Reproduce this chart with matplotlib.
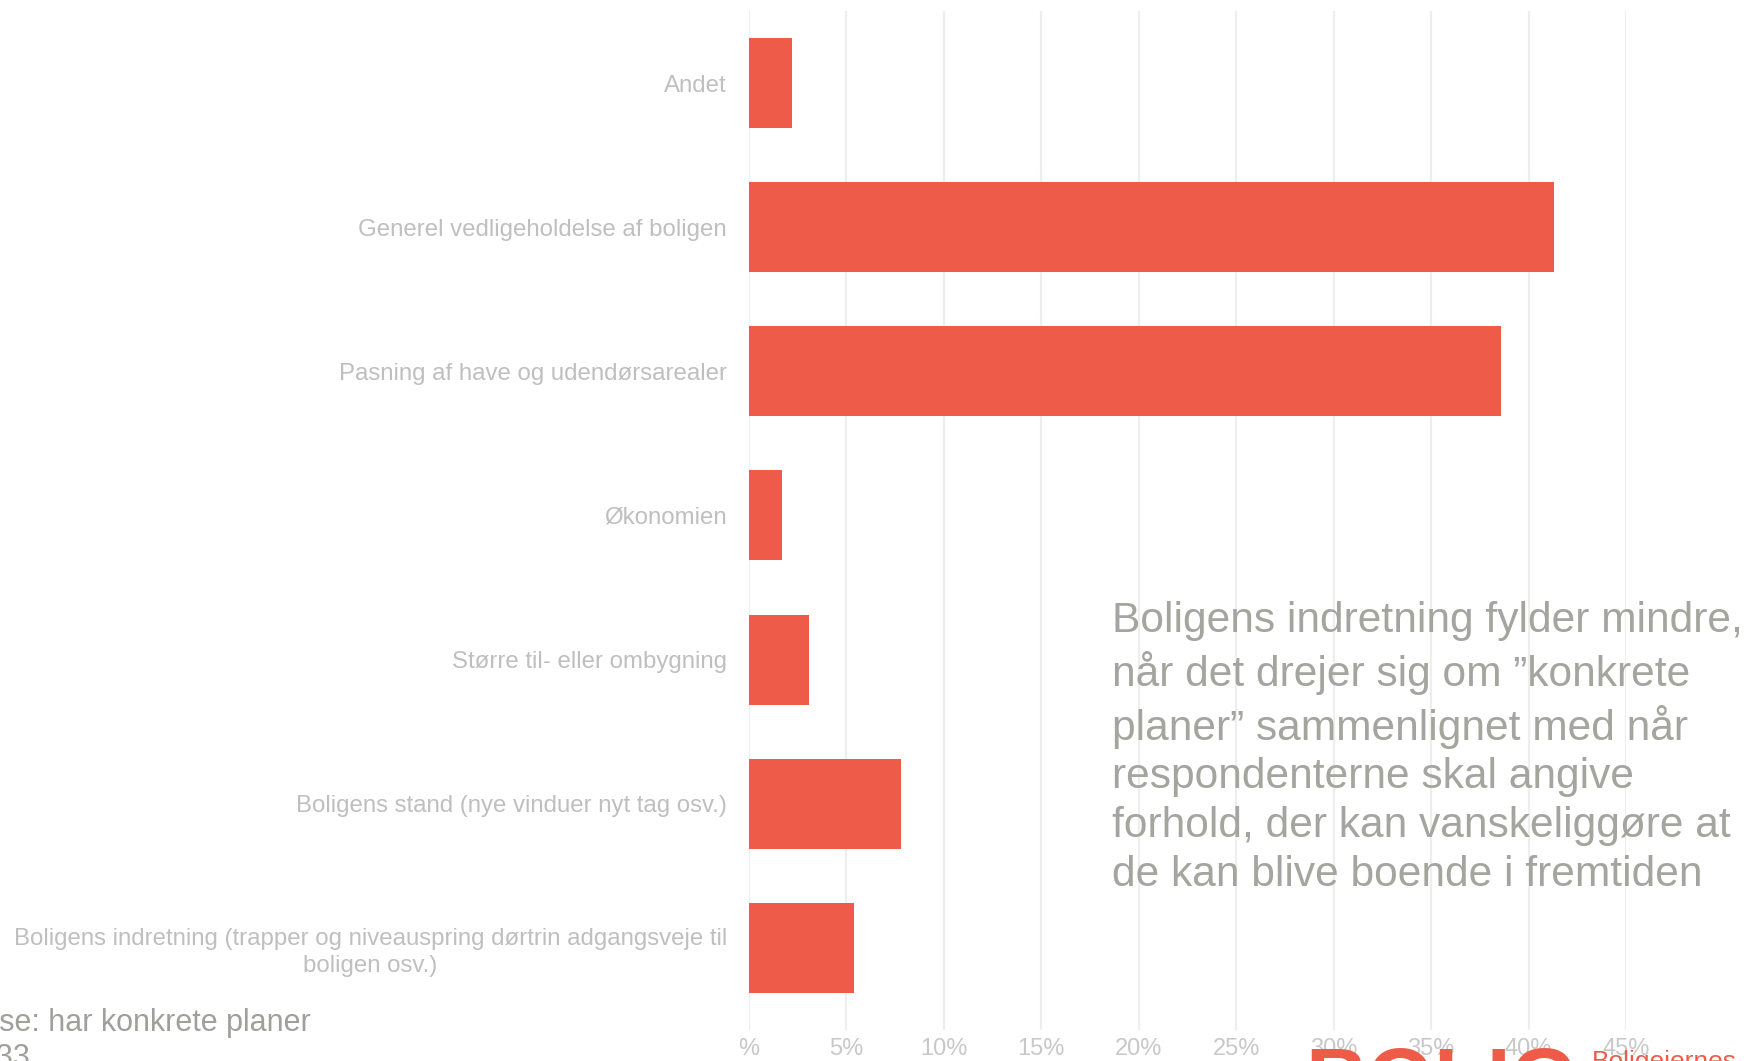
import matplotlib.pyplot as plt

# Data (percent of respondents)
categories = [
    "Andet",
    "Generel vedligeholdelse af boligen",
    "Pasning af have og udendørsarealer",
    "Økonomien",
    "Større til- eller ombygning",
    "Boligens stand (nye vinduer nyt tag osv.)",
    "Boligens indretning (trapper og niveauspring dørtrin adgangsveje til\nboligen osv.)",
]
values = [2.2, 41.3, 38.6, 1.7, 3.1, 7.8, 5.4]
tick_values = [0, 5, 10, 15, 20, 25, 30, 35, 40, 45]
tick_labels = ["%", "5%", "10%", "15%", "20%", "25%", "30%", "35%", "40%", "45%"]

note = ("Boligens indretning fylder mindre,\n"
        "når det drejer sig om \u201dkonkrete\n"
        "planer\u201d sammenlignet med når\n"
        "respondenterne skal angive\n"
        "forhold, der kan vanskeliggøre at\n"
        "de kan blive boende i fremtiden")
base_line1 = "Base: har konkrete planer"
base_line2 = "n=133"

BAR = "#EE5C49"
W, H = 1746, 1061

plt.rcParams['font.family'] = ['Liberation Sans', 'DejaVu Sans']

fig = plt.figure(figsize=(W / 100, H / 100), dpi=100)
ax = fig.add_axes([749 / W, 1 - 1030 / H, (1626 - 749) / W, (1030 - 11) / H])

ypos = list(range(len(categories)))
ax.barh(ypos, values, height=0.624, color=BAR, zorder=3)

ax.set_xlim(0, 45)
ax.set_ylim(6.57, -0.5)
ax.set_xticks(tick_values)
ax.set_xticklabels([])
ax.set_yticks(ypos)
ax.set_yticklabels(categories, fontsize=17.3, color="#bfbfbf",
                   multialignment="center", linespacing=1.3)
ax.tick_params(axis="y", length=0, pad=16)
ax.tick_params(axis="x", length=0)
ax.grid(axis="x", color="#eeeeee", linewidth=1.6, zorder=0)
for s in ax.spines.values():
    s.set_visible(False)

# tick labels sit right at the cropped bottom edge of the slide
for v, lab in zip(tick_values, tick_labels):
    x = (749 + v * 19.49) / W
    fig.text(x, 1 - 1049 / H, lab, ha="center", va="center", fontsize=17,
             color="#c8c8c8")

fig.text(1112 / W, 1 - 601 / H, note, ha="left", va="top", fontsize=30.6,
         color="#a5a5a0", linespacing=1.28)

fig.text(-38 / W, 1 - 1023 / H, base_line1, ha="left", va="center",
         fontsize=22, color="#a0a09b")
fig.text(-55 / W, 1 - 1058 / H, base_line2, ha="left", va="center",
         fontsize=22, color="#a0a09b")

# partially visible logo at the bottom edge
fig.text(1305 / W, 1 - 1046 / H, "BOLIG", ha="left", va="top", fontsize=62,
         fontweight="bold", color=BAR)
fig.text(1592 / W, 1 - 1050 / H, "Boligejernes", ha="left", va="top",
         fontsize=19, color=BAR)

fig.savefig("out.png", dpi=100)
